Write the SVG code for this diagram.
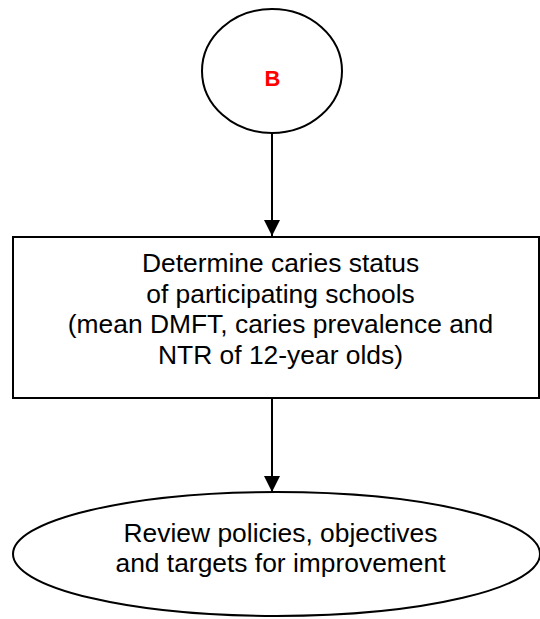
<svg xmlns="http://www.w3.org/2000/svg" width="540" height="619" viewBox="0 0 540 619">
<defs>
<style>
.shape{fill:#fff;stroke:#000;stroke-width:2}
.t{font-family:"Liberation Sans",Arial,sans-serif;font-size:26.4px;fill:#000;text-anchor:middle}
.b{font-family:"Liberation Sans",Arial,sans-serif;font-size:22px;font-weight:bold;fill:#ff0000;text-anchor:middle}
.conn{stroke:#000;stroke-width:2;fill:none}
</style>
<marker id="ah" viewBox="0 0 16 16" refX="16" refY="8" markerWidth="16" markerHeight="16" markerUnits="userSpaceOnUse" orient="auto">
<path d="M0,0 L16,8 L0,16 Z" fill="#000"/>
</marker>
</defs>
<rect width="540" height="619" fill="#fff"/>
<g id="nodeB">
<ellipse class="shape" cx="272" cy="71" rx="70" ry="62"/>
<text class="b" x="272.5" y="86">B</text>
</g>
<g id="nodeDetermine">
<rect class="shape" x="13" y="237" width="526" height="161"/>
<text class="t" x="280.5" y="272">Determine caries status</text>
<text class="t" x="280.5" y="303">of participating schools</text>
<text class="t" x="280.5" y="333">(mean DMFT, caries prevalence and</text>
<text class="t" x="280.5" y="364">NTR of 12-year olds)</text>
</g>
<g id="nodeReview">
<ellipse class="shape" cx="276.5" cy="554" rx="263.5" ry="62"/>
<text class="t" x="280.5" y="542">Review policies, objectives</text>
<text class="t" x="280.5" y="572">and targets for improvement</text>
</g>
<g id="connectors">
<line class="conn" x1="272" y1="133" x2="272" y2="236" marker-end="url(#ah)"/>
<line class="conn" x1="272" y1="398" x2="272" y2="492" marker-end="url(#ah)"/>
</g>
</svg>
